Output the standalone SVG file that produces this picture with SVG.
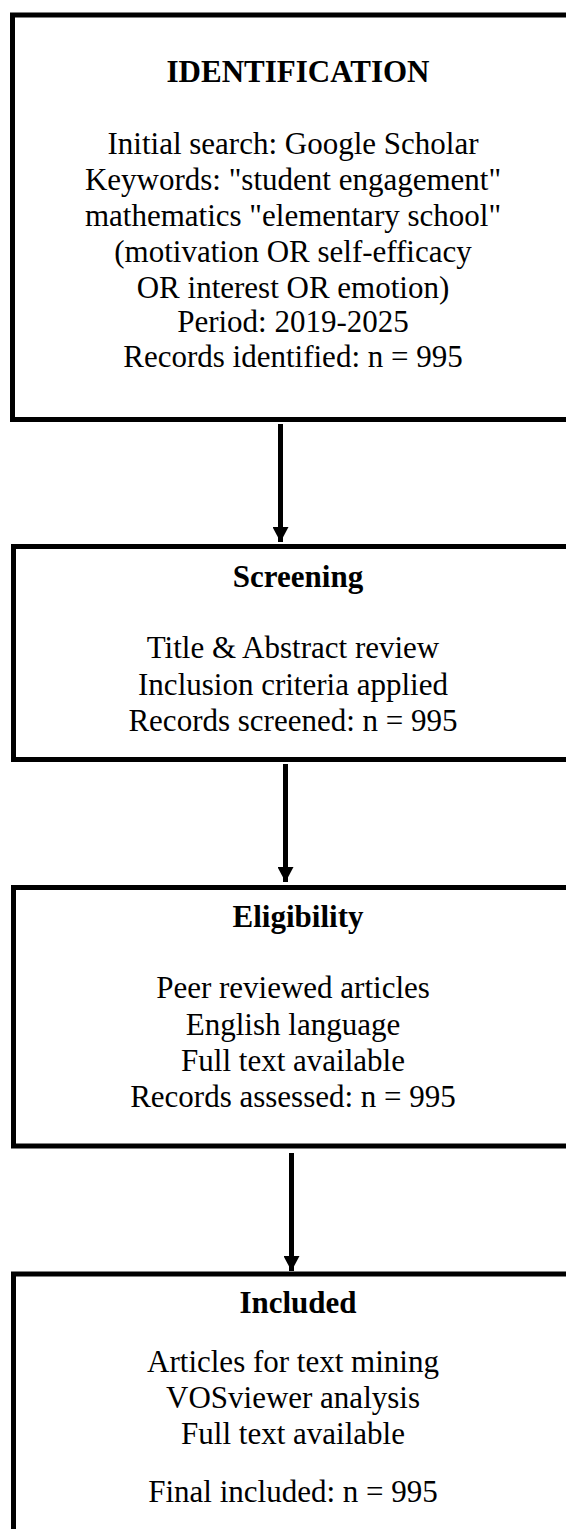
<svg xmlns="http://www.w3.org/2000/svg" width="566" height="1529" viewBox="0 0 566 1529">
<style>
.box{fill:#ffffff;stroke:#000000;stroke-width:5}
.t{font-family:"Liberation Serif","Times New Roman",serif;font-size:31px;fill:#000000;text-anchor:middle}
.h{font-weight:bold}
.c{stroke:#000000;stroke-width:5;fill:none}
</style>
<defs>
<marker id="arr" markerUnits="userSpaceOnUse" markerWidth="16" markerHeight="16" refX="15" refY="8" orient="auto">
<path d="M0,0 L15,8 L0,16 Z" fill="#000000"/>
</marker>
</defs>
<rect width="566" height="1529" fill="#ffffff"/>
<g id="connectors">
<line class="c" x1="280.5" y1="424" x2="280.5" y2="542" marker-end="url(#arr)"/>
<line class="c" x1="285.5" y1="764" x2="285.5" y2="882" marker-end="url(#arr)"/>
<line class="c" x1="291.5" y1="1153" x2="291.5" y2="1271" marker-end="url(#arr)"/>
</g>
<g id="identification">
<rect class="box" x="12.5" y="15" width="580" height="404.5"/>
<text class="t h" x="298" y="82">IDENTIFICATION</text>
<text class="t" x="293" y="154">Initial search: Google Scholar</text>
<text class="t" x="293" y="190">Keywords: "student engagement"</text>
<text class="t" x="293" y="226">mathematics "elementary school"</text>
<text class="t" x="293" y="262">(motivation OR self-efficacy</text>
<text class="t" x="293" y="298">OR interest OR emotion)</text>
<text class="t" x="293" y="332">Period: 2019-2025</text>
<text class="t" x="293" y="367">Records identified: n = 995</text>
</g>
<g id="screening">
<rect class="box" x="13.5" y="546.5" width="580" height="213"/>
<text class="t h" x="298" y="587">Screening</text>
<text class="t" x="293" y="658">Title &amp; Abstract review</text>
<text class="t" x="293" y="695">Inclusion criteria applied</text>
<text class="t" x="293" y="731">Records screened: n = 995</text>
</g>
<g id="eligibility">
<rect class="box" x="13.5" y="887.5" width="580" height="258.5"/>
<text class="t h" x="298" y="927">Eligibility</text>
<text class="t" x="293" y="998">Peer reviewed articles</text>
<text class="t" x="293" y="1035">English language</text>
<text class="t" x="293" y="1071">Full text available</text>
<text class="t" x="293" y="1107">Records assessed: n = 995</text>
</g>
<g id="included">
<rect class="box" x="13.5" y="1274" width="580" height="300"/>
<text class="t h" x="298" y="1313">Included</text>
<text class="t" x="293" y="1372">Articles for text mining</text>
<text class="t" x="293" y="1408">VOSviewer analysis</text>
<text class="t" x="293" y="1444">Full text available</text>
<text class="t" x="293" y="1502">Final included: n = 995</text>
</g>
</svg>
